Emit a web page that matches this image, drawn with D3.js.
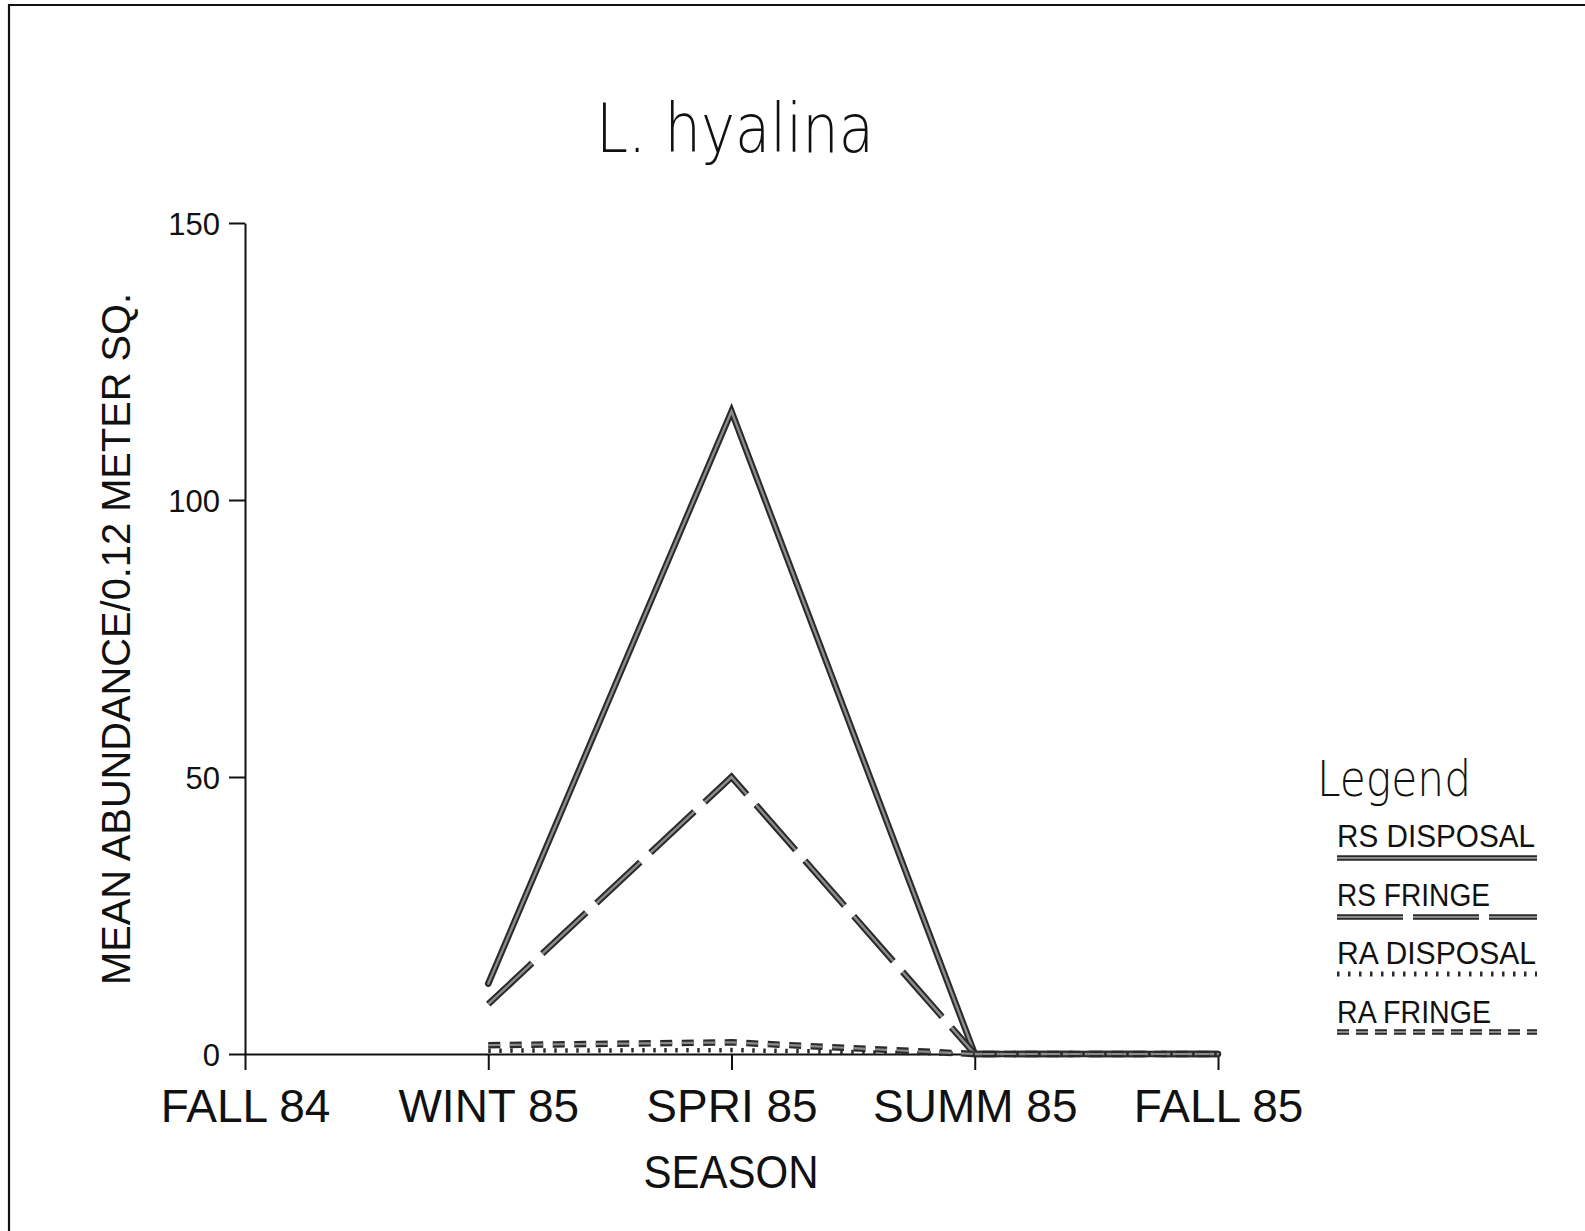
<!DOCTYPE html>
<html>
<head>
<meta charset="utf-8">
<script src="https://cdn.jsdelivr.net/npm/d3@7"></script>
<style>
  html, body { margin: 0; padding: 0; background: #fff; }
  svg { display: block; }
  text { fill: #111; }
</style>
</head>
<body>
<svg id="chart" width="1585" height="1231"></svg>
<script>
// ---- data ----
const seasons = ["FALL 84", "WINT 85", "SPRI 85", "SUMM 85", "FALL 85"];
const rsDisposal = [null, 12.7, 116, 0, 0];
const rsFringe   = [null, 9, 50, 0, 0];
const raDisposal = [null, 0.6, 0.7, 0, 0];
const raFringe   = [null, 1.6, 2.1, 0, 0];
const yTicks = [0, 50, 100, 150];
const seriesNames = ["RS DISPOSAL", "RS FRINGE", "RA DISPOSAL", "RA FRINGE"];
const titleText = "L. hyalina";
const yLabel = "MEAN ABUNDANCE/0.12 METER SQ.";
const xLabel = "SEASON";

// ---- layout ----
const svg = d3.select("#chart");
const x = d3.scalePoint().domain(seasons).range([245, 1218]);
const y = d3.scaleLinear().domain([0, 150]).range([1054, 223]);
const FONT = "'Liberation Sans', Arial, sans-serif";
const THIN = "'DejaVu Sans', 'Liberation Sans', sans-serif";

// frame (top & left edges)
svg.append("path").attr("d", "M9,1231 L9,5 L1585,5")
  .attr("fill", "none").attr("stroke", "#111").attr("stroke-width", 2.2);

// title
svg.append("text").attr("x", 596).attr("y", 152)
  .attr("font-family", THIN).attr("font-weight", 200).attr("font-size", 68)
  .attr("textLength", 278).attr("lengthAdjust", "spacingAndGlyphs")
  .text(titleText);

// axes
const yAxis = d3.axisLeft(y).tickValues(yTicks).tickSize(16).tickPadding(9).tickSizeOuter(0);
const gy = svg.append("g").attr("transform", "translate(245,0)").call(yAxis);
gy.selectAll("text").attr("font-family", FONT).attr("font-size", 31).attr("fill", "#111").attr("dy", "0.36em");
gy.selectAll("line, path").attr("stroke", "#111").attr("stroke-width", 2);

const xAxis = d3.axisBottom(x).tickSize(16).tickSizeOuter(0);
const gx = svg.append("g").attr("transform", "translate(0,1054)").call(xAxis);
gx.selectAll("text").attr("font-family", FONT).attr("font-size", 46).attr("fill", "#111")
  .attr("y", 68).attr("dy", 0);
gx.selectAll("line, path").attr("stroke", "#111").attr("stroke-width", 2);

// axis titles
svg.append("text").attr("transform", "translate(130,639) rotate(-90)")
  .attr("text-anchor", "middle").attr("font-family", FONT).attr("font-size", 40)
  .attr("textLength", 692).attr("lengthAdjust", "spacingAndGlyphs")
  .text(yLabel);
svg.append("text").attr("x", 731).attr("y", 1188)
  .attr("text-anchor", "middle").attr("font-family", FONT).attr("font-size", 46)
  .attr("textLength", 175).attr("lengthAdjust", "spacingAndGlyphs")
  .text(xLabel);

// ---- series ----
const styles = [
  { data: rsDisposal, dash: null,   outer: 6.5, inner: 2.4, cap: "round" },
  { data: rsFringe,   dash: "60 14", outer: 6.5, inner: 2.4, cap: "butt" },
  { data: raDisposal, dash: "2.5 8.5", outer: 4.5, inner: 0, cap: "butt" },
  { data: raFringe,   dash: "12 9.5", outer: 6.5, inner: 2.2, cap: "butt" }
];

const line = d3.line()
  .defined(d => d.v != null)
  .x(d => x(d.s)).y(d => y(d.v));

styles.forEach(st => {
  const pts = seasons.map((s, i) => ({ s, v: st.data[i] }));
  const p1 = svg.append("path").datum(pts).attr("d", line)
    .attr("fill", "none").attr("stroke", "#2a2a2a").attr("stroke-width", st.outer)
    .attr("stroke-linejoin", "miter").attr("stroke-linecap", st.cap);
  if (st.dash) p1.attr("stroke-dasharray", st.dash);
  if (st.inner > 0) {
    const p2 = svg.append("path").datum(pts).attr("d", line)
      .attr("fill", "none").attr("stroke", "#8c8c8c").attr("stroke-width", st.inner)
      .attr("stroke-linejoin", "miter").attr("stroke-linecap", st.cap);
    if (st.dash) p2.attr("stroke-dasharray", st.dash);
  }
});

// ---- legend ----
svg.append("text").attr("x", 1317).attr("y", 796)
  .attr("font-family", THIN).attr("font-weight", 200).attr("font-size", 50)
  .attr("textLength", 154).attr("lengthAdjust", "spacingAndGlyphs")
  .text("Legend");

const legBaselines = [847, 906, 964, 1023];
const legLineY = [858, 917, 974, 1032];
const legWidths = [198, 153, 199, 154];
const legDash = [null, "66 10", "2.5 8.5", "12 7"];
seriesNames.forEach((name, i) => {
  svg.append("text").attr("x", 1337).attr("y", legBaselines[i])
    .attr("font-family", FONT).attr("font-size", 32)
    .attr("textLength", legWidths[i]).attr("lengthAdjust", "spacingAndGlyphs")
    .text(name);
  const st = styles[i];
  const l1 = svg.append("line").attr("x1", 1337).attr("x2", 1537)
    .attr("y1", legLineY[i]).attr("y2", legLineY[i])
    .attr("stroke", "#2a2a2a").attr("stroke-width", i === 2 ? 5 : 5.5);
  if (legDash[i]) l1.attr("stroke-dasharray", legDash[i]);
  if (st.inner > 0) {
    const l2 = svg.append("line").attr("x1", 1337).attr("x2", 1537)
      .attr("y1", legLineY[i]).attr("y2", legLineY[i])
      .attr("stroke", "#8c8c8c").attr("stroke-width", 1.8);
    if (legDash[i]) l2.attr("stroke-dasharray", legDash[i]);
  }
});
</script>
</body>
</html>
